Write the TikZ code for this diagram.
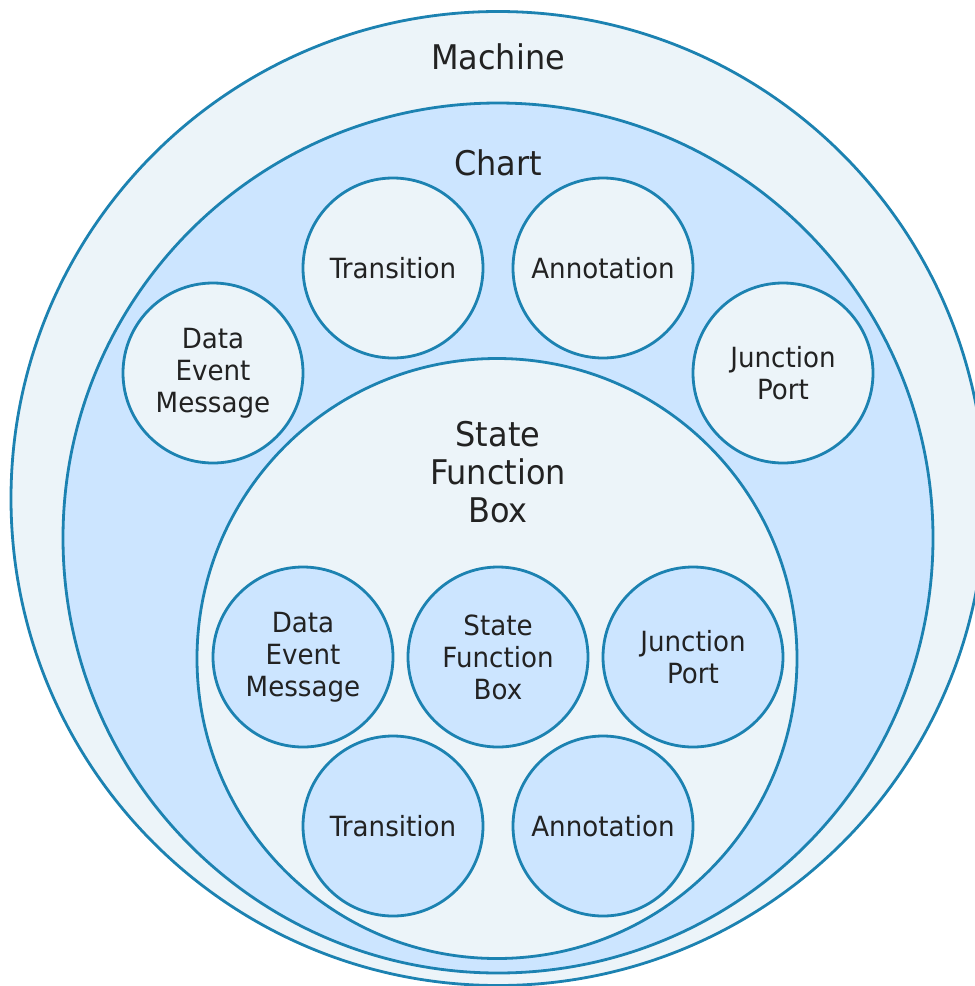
\documentclass[tikz,border=0pt]{standalone}
\usepackage{fontspec}
\setmainfont[FakeStretch=0.94]{DejaVu Sans}
\definecolor{strokeblue}{HTML}{1C82B1}
\definecolor{lightfill}{HTML}{ECF4F9}
\definecolor{midfill}{HTML}{CCE5FF}
\definecolor{textgray}{HTML}{222222}
\tikzset{
  ring/.style={draw=strokeblue, line width=2.8pt},
  small/.style={circle, draw=strokeblue, line width=2.8pt, minimum size=180pt, inner sep=0pt, align=center, text=textgray, font=\fontsize{27.8}{32}\selectfont},
  lightc/.style={small, fill=lightfill},
  midc/.style={small, fill=midfill},
  bigtext/.style={align=center, text=textgray, font=\fontsize{34}{38}\selectfont},
}
\begin{document}
\begin{tikzpicture}[x=1pt, y=-1pt]
\useasboundingbox (0,0) rectangle (975,986);
\clip (0,0) rectangle (975,986);
\fill[white] (0,0) rectangle (975,986);
\draw[ring, fill=lightfill] (498,498.5) circle (487);
\draw[ring, fill=midfill] (498,538) circle (435);
\draw[ring, fill=lightfill] (497,658.5) circle (300);
\node[bigtext] (machine) at (498,57) {Machine};
\node[bigtext] (chart) at (498,163) {Chart};
\node[bigtext] (sfb) at (498,472) {State\\Function\\Box};
% chart-level children
\node[lightc] (ctrans) at (393,268) {Transition};
\node[lightc] (cannot) at (603,268) {Annotation};
\node[lightc] (cdata) at (213,373) {Data\\Event\\Message};
\node[lightc] (cjunc) at (783,373) {Junction\\Port};
% state-level children
\node[midc] (sdata) at (303,657) {Data\\Event\\Message};
\node[midc] (ssfb) at (498,657) {State\\Function\\Box};
\node[midc] (sjunc) at (693,657) {Junction\\Port};
\node[midc] (strans) at (393,826) {Transition};
\node[midc] (sannot) at (603,826) {Annotation};
\end{tikzpicture}
\end{document}
